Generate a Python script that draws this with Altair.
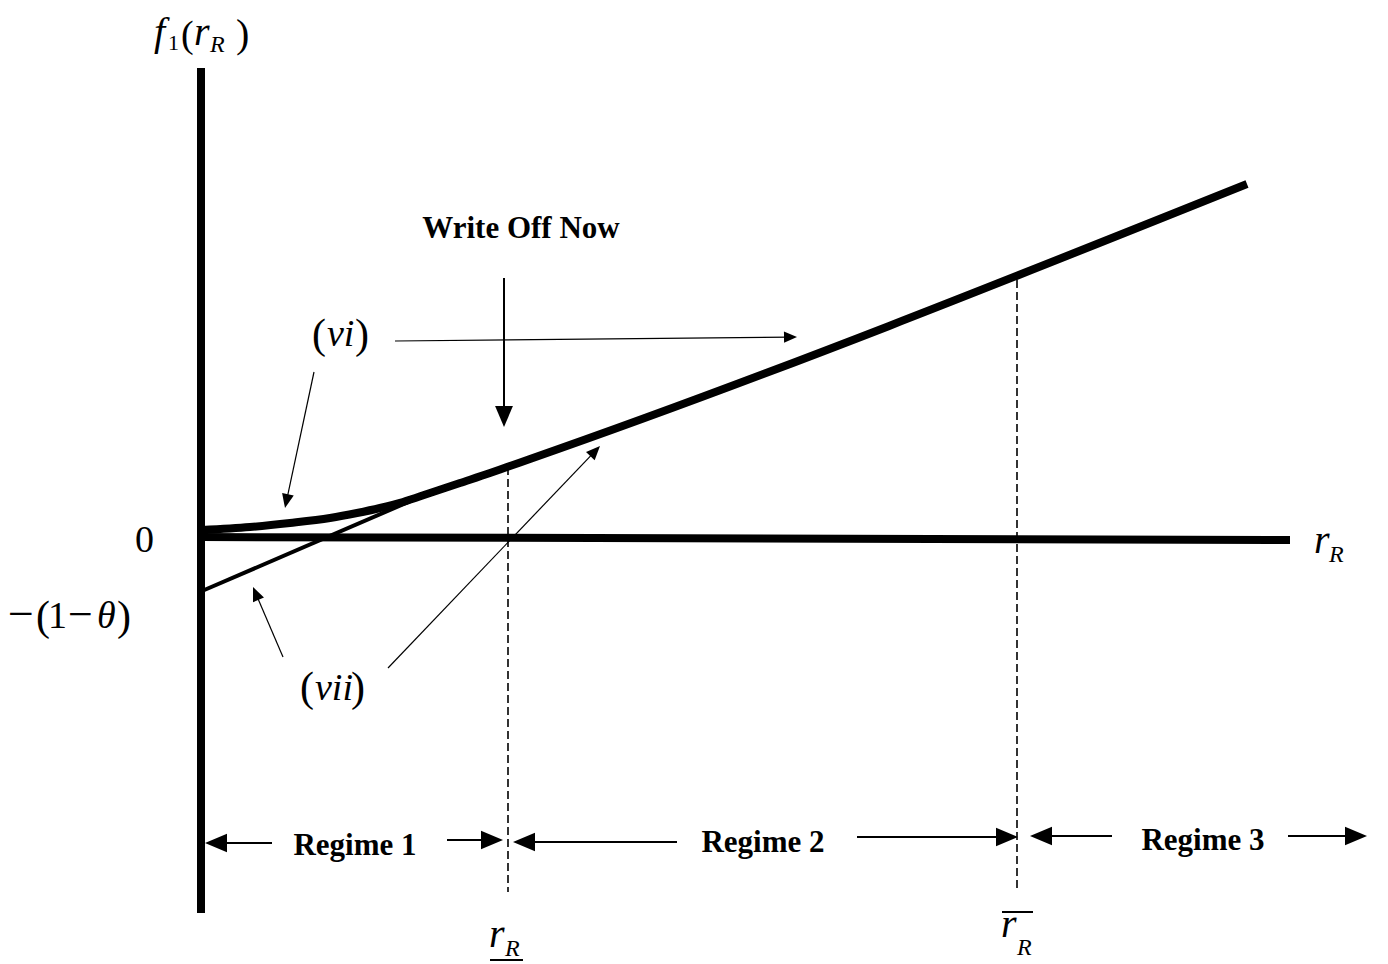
import math
import altair as alt
import pandas as pd

W, H = 1388, 964

# ---- diagram data (diagram coordinates: x right, y down) ----
# axes
vaxis_x = [201, 201]
vaxis_y = [68, 913]
haxis_x = [201, 1290]
haxis_y = [537, 540]

# f1(rR) thick curve (vi)
curve_x = [202, 250, 290, 330, 357, 380, 403, 430, 460, 490, 507, 530, 1247]
curve_y = [530, 527, 523, 518, 513, 508, 502, 493, 483, 473, 467, 459, 184]

# tangent line (vii)
tangent_x = [202, 420]
tangent_y = [591, 497]

# dashed regime boundaries
dash_x = [508, 1017]
dash_top = [467, 280]
dash_bottom = [892, 890]

# arrows: start -> tip
arrow_x0 = [504, 395, 314, 283, 388, 272, 447, 677, 857, 1112, 1288]
arrow_y0 = [278, 341, 372, 657, 668, 843, 840, 842, 837, 836, 836]
arrow_x1 = [504, 797, 285, 253, 600, 205, 503, 513, 1018, 1030, 1367]
arrow_y1 = [427, 337, 508, 587, 446, 843, 840, 842, 837, 836, 836]
arrow_head = [21, 13, 14, 14, 14, 22, 22, 22, 22, 22, 22]
arrow_lw = [2, 1.2, 1.2, 1.2, 1.2, 2, 2, 2, 2, 2, 2]

# bars under / over the bottom labels
bar_x0 = [490, 1002]
bar_x1 = [523, 1033]
bar_y = [960, 912]

# text pieces
ital_text = ["f", "r", "R", "θ", "vi", "vii", "r", "R", "r", "R", "r", "R"]
ital_x = [154, 194, 210, 97, 327, 315, 1314, 1329, 489, 505, 1001, 1017]
ital_y = [45, 45, 52, 628, 346, 700, 553, 562, 947, 956, 937, 955]
ital_size = [40, 40, 24, 38, 38, 38, 40, 24, 40, 24, 40, 24]

reg_text = ["1", "(", ")", "0", "−", "(", "1", "−", ")", "(", ")", "(", ")"]
reg_x = [168, 181, 236, 135, 8, 36, 48, 68, 117, 312, 355, 300, 351]
reg_y = [50, 47, 47, 552, 629, 630, 628, 629, 630, 348, 348, 701, 701]
reg_size = [22, 38, 40, 38, 46, 42, 38, 44, 42, 42, 42, 42, 42]

bold_text = ["Write Off Now", "Regime 1", "Regime 2", "Regime 3"]
bold_x = [521, 355, 763, 1203]
bold_y = [238, 855, 852, 850]
bold_size = [31, 31, 31, 31]

# ---- build tables ----
X = alt.Scale(domain=[0, W], nice=False, zero=False)
Y = alt.Scale(domain=[0, H], nice=False, zero=False, reverse=True)


def xy(xf="x", yf="y"):
    return dict(
        x=alt.X(f"{xf}:Q", scale=X, axis=None),
        y=alt.Y(f"{yf}:Q", scale=Y, axis=None),
    )


segs = []
segs.append(dict(x=vaxis_x[0], y=vaxis_y[0], x2=vaxis_x[1], y2=vaxis_y[1], w=8))
segs.append(dict(x=haxis_x[0], y=haxis_y[0], x2=haxis_x[1], y2=haxis_y[1], w=8))
segs.append(dict(x=tangent_x[0], y=tangent_y[0], x2=tangent_x[1], y2=tangent_y[1], w=4))
for i in range(len(bar_x0)):
    segs.append(dict(x=bar_x0[i], y=bar_y[i], x2=bar_x1[i], y2=bar_y[i], w=2))

heads = []
for i in range(len(arrow_x0)):
    dx = arrow_x1[i] - arrow_x0[i]
    dy = arrow_y1[i] - arrow_y0[i]
    L = math.hypot(dx, dy)
    ux, uy = dx / L, dy / L
    ex = arrow_x1[i] - ux * arrow_head[i] * 0.5
    ey = arrow_y1[i] - uy * arrow_head[i] * 0.5
    segs.append(dict(x=arrow_x0[i], y=arrow_y0[i], x2=ex, y2=ey, w=arrow_lw[i]))
    ang = math.degrees(math.atan2(dy, dx)) % 360
    heads.append(dict(x=arrow_x1[i], y=arrow_y1[i], angle=ang, size=arrow_head[i] ** 2))

seg_df = pd.DataFrame(segs)
head_df = pd.DataFrame(heads)
curve_df = pd.DataFrame({"x": curve_x, "y": curve_y})
dash_df = pd.DataFrame({"x": dash_x, "y": dash_top, "y2": dash_bottom})
ital_df = pd.DataFrame({"t": ital_text, "x": ital_x, "y": ital_y, "s": ital_size})
reg_df = pd.DataFrame({"t": reg_text, "x": reg_x, "y": reg_y, "s": reg_size})
bold_df = pd.DataFrame({"t": bold_text, "x": bold_x, "y": bold_y, "s": bold_size})

rules = alt.Chart(seg_df).mark_rule(color="black", strokeCap="butt").encode(
    **xy(),
    x2="x2:Q",
    y2="y2:Q",
    strokeWidth=alt.StrokeWidth("w:Q", scale=None),
)

curve = alt.Chart(curve_df).mark_line(
    color="black", strokeWidth=8, interpolate="monotone", strokeCap="butt"
).encode(**xy())

dashes = alt.Chart(dash_df).mark_rule(
    color="black", strokeWidth=1.6, strokeDash=[8, 4]
).encode(**xy(), y2="y2:Q")

head_shape = "M0,0L-2,-0.85L-2,0.85Z"
arrows = alt.Chart(head_df).mark_point(
    shape=head_shape, filled=True, color="black", opacity=1, strokeWidth=0
).encode(
    **xy(),
    angle=alt.Angle("angle:Q", scale=None),
    size=alt.Size("size:Q", scale=None),
)

font = "Liberation Serif"
ital = alt.Chart(ital_df).mark_text(
    font=font, fontStyle="italic", align="left", baseline="alphabetic", color="black"
).encode(**xy(), text="t:N", size=alt.Size("s:Q", scale=None))

reg = alt.Chart(reg_df).mark_text(
    font=font, align="left", baseline="alphabetic", color="black"
).encode(**xy(), text="t:N", size=alt.Size("s:Q", scale=None))

bold = alt.Chart(bold_df).mark_text(
    font=font, fontWeight="bold", align="center", baseline="alphabetic", color="black"
).encode(**xy(), text="t:N", size=alt.Size("s:Q", scale=None))

chart = (
    alt.layer(dashes, rules, curve, arrows, ital, reg, bold)
    .properties(width=W, height=H, padding=0, autosize=alt.AutoSizeParams(type="none"),
                background="white")
    .configure_view(stroke=None)
)

chart.save("out.html", embed_options={"renderer": "svg", "actions": False})
